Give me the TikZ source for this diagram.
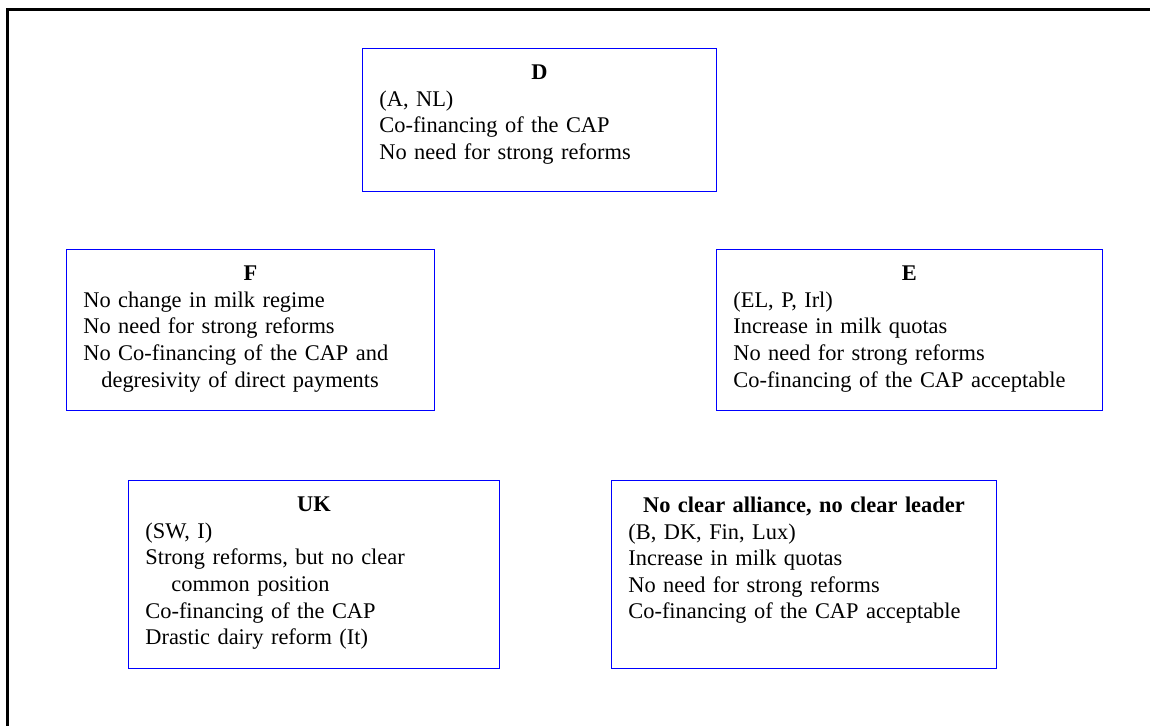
\documentclass[tikz,border=0pt]{standalone}
\usepackage{fontspec}
\setmainfont{Liberation Serif}
\usetikzlibrary{positioning}

% centred bold heading inside a box text
\newcommand{\boxhead}[1]{\makebox[\linewidth][c]{\textbf{#1}}}

\begin{document}
\begin{tikzpicture}[x=0.5pt,y=-0.5pt,
  % frame round the whole page
  frame line/.style={line width=1.5pt,black},
  % the member-state boxes
  pos box/.style={draw=blue,line width=0.6pt,anchor=north west,inner sep=0pt},
  pos text/.style={inner sep=0pt,align=left,font=\fontsize{11.2}{13.3}\selectfont}]

  \useasboundingbox (0,0) rectangle (1150,726);
  \draw [frame line] (7,726) -- (7,10) -- (1150,10);

  % D
  \node [pos box,minimum width=177pt,minimum height=71.5pt] (dbox) at (362,48) {};
  \node [pos text,text width=160pt,below right=8.3pt and 8.5pt of dbox.north west] (dtext)
    {\boxhead{D}\\ (A, NL)\\ Co-financing of the CAP\\ No need for strong reforms};

  % F
  \node [pos box,minimum width=184pt,minimum height=80.5pt] (fbox) at (66,249) {};
  \node [pos text,text width=167pt,below right=8.3pt and 8.5pt of fbox.north west] (ftext)
    {\boxhead{F}\\ No change in milk regime\\ No need for strong reforms\\
     No Co-financing of the CAP and\\ \hspace*{9pt}degresivity of direct payments};

  % E
  \node [pos box,minimum width=193pt,minimum height=80.5pt] (ebox) at (716,249) {};
  \node [pos text,text width=176pt,below right=8.3pt and 8.5pt of ebox.north west] (etext)
    {\boxhead{E}\\ (EL, P, Irl)\\ Increase in milk quotas\\ No need for strong reforms\\
     Co-financing of the CAP acceptable};

  % UK
  \node [pos box,minimum width=185.5pt,minimum height=94pt] (ukbox) at (128,480) {};
  \node [pos text,text width=168.5pt,below right=8.3pt and 8.5pt of ukbox.north west] (uktext)
    {\boxhead{UK}\\ (SW, I)\\ Strong reforms, but no clear\\ \hspace*{13pt}common position\\
     Co-financing of the CAP\\ Drastic dairy reform (It)};

  % no clear alliance
  \node [pos box,minimum width=192.5pt,minimum height=94pt] (ncbox) at (611,480) {};
  \node [pos text,text width=175.5pt,below right=8.3pt and 8.5pt of ncbox.north west] (nctext)
    {\boxhead{No clear alliance, no clear leader}\\ (B, DK, Fin, Lux)\\ Increase in milk quotas\\
     No need for strong reforms\\ Co-financing of the CAP acceptable};
\end{tikzpicture}
\end{document}
